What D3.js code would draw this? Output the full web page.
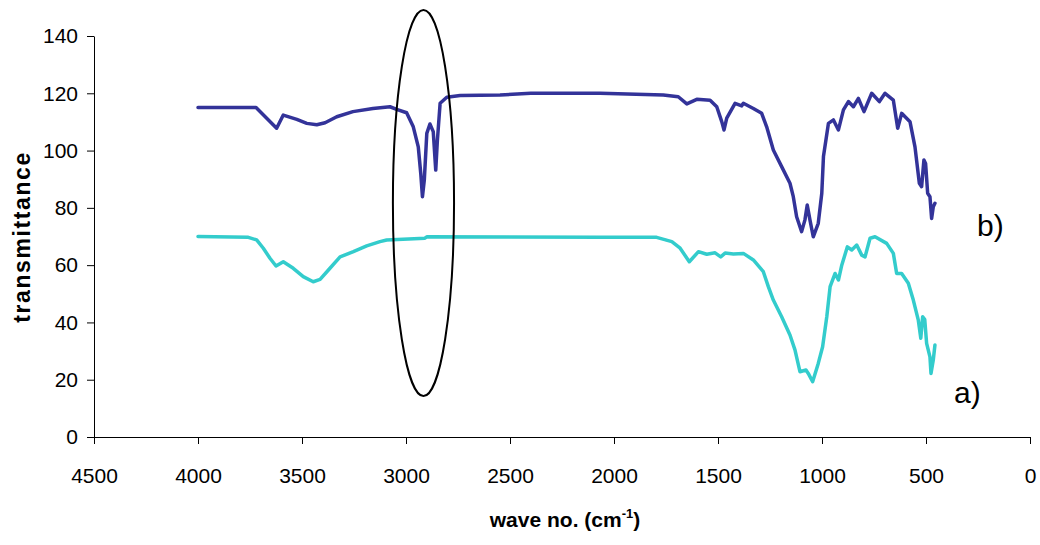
<!DOCTYPE html>
<html>
<head>
<meta charset="utf-8">
<script src="https://cdn.jsdelivr.net/npm/d3@7"></script>
<style>
	body { margin: 0; background: #fff; }
	svg { display: block; font-family: "Liberation Sans", Arial, sans-serif; }
	.axis path, .axis line { stroke: #000; stroke-width: 1; }
	.axis text { font-size: 21px; fill: #000; }
</style>
</head>
<body>
<svg id="chart" width="1040" height="545"></svg>
<script>
// wave numbers (cm-1) and transmittance
const waveB = [4000, 3721, 3622, 3590, 3525, 3477, 3429, 3389, 3333, 3255, 3159, 3077, 3045, 2997, 2965, 2941, 2929, 2921, 2912, 2900, 2885, 2869, 2857, 2849, 2836, 2804, 2740, 2548, 2400, 2067, 1763, 1691, 1650, 1602, 1538, 1506, 1482, 1471, 1458, 1418, 1386, 1378, 1330, 1290, 1266, 1234, 1194, 1154, 1138, 1122, 1098, 1082, 1071, 1058, 1042, 1018, 1001, 993, 969, 945, 921, 897, 873, 849, 825, 798, 761, 724, 697, 657, 636, 617, 577, 553, 532, 521, 510, 502, 492, 481, 473, 465, 457];
const transB = [115, 115, 107.8, 112.4, 110.9, 109.5, 109, 109.7, 111.8, 113.6, 114.7, 115.3, 114.4, 113.2, 108.3, 101.3, 92, 83.9, 89.7, 106, 109.3, 106.6, 93.2, 103.7, 116.5, 118.6, 119.2, 119.4, 120, 120, 119.4, 118.8, 116.3, 117.9, 117.6, 115.3, 110.1, 107.2, 111.3, 116.5, 115.6, 116.5, 114.7, 113, 108.3, 100.2, 94.4, 88.6, 83.9, 76.9, 71.7, 75.8, 81, 75.8, 69.9, 74.6, 85.1, 97.9, 109.5, 110.7, 107.2, 114.2, 117.1, 115.3, 118.2, 113.6, 120, 117.1, 120, 117.6, 107.8, 113, 110.1, 101.3, 88.6, 87.4, 96.7, 95.5, 85.1, 83.9, 76.3, 80.4, 81.6];

const waveA = [4000, 3758, 3718, 3686, 3654, 3625, 3590, 3542, 3494, 3446, 3413, 3373, 3317, 3253, 3189, 3125, 3093, 2909, 2900, 2067, 1795, 1722, 1682, 1638, 1594, 1554, 1514, 1487, 1466, 1426, 1378, 1330, 1282, 1258, 1234, 1194, 1154, 1130, 1106, 1077, 1066, 1045, 1018, 997, 977, 961, 937, 921, 905, 878, 857, 833, 809, 793, 769, 745, 689, 657, 641, 617, 585, 561, 537, 525, 516, 506, 497, 481, 476, 465, 457];
const transA = [70, 69.7, 68.8, 65.9, 62.4, 59.7, 61.2, 58.9, 56, 54.2, 55, 58.3, 62.9, 64.7, 66.7, 68.2, 68.8, 69.4, 69.9, 69.7, 69.7, 68.2, 65.9, 61.2, 64.7, 63.8, 64.3, 62.9, 64.2, 63.9, 64.1, 61.8, 57.7, 52.5, 47.8, 42, 35.6, 30.4, 22.8, 23.4, 22.2, 19.3, 25.7, 31.5, 42, 52.5, 57.1, 54.8, 60, 66.4, 65.3, 67, 63.5, 62.9, 69.4, 69.9, 67.6, 64.1, 57.1, 57.1, 53.7, 47.8, 40.8, 34.5, 42, 41, 32.7, 28, 22.2, 26.9, 32.1];

const xTicks = [4500, 4000, 3500, 3000, 2500, 2000, 1500, 1000, 500, 0];
const yTicks = [0, 20, 40, 60, 80, 100, 120, 140];
const seriesNames = ["b)", "a)"];
const seriesColors = ["#333399", "#33cccc"];

// ellipse marking the C-H stretching region: centre, half-width, half-height
const markWave = 2916, markTrans = 81.7, markRx = 147, markRy = 67.4;

const margin = {top: 36, right: 10, bottom: 108, left: 94};
const W = 1040, H = 545;

const svg = d3.select("#chart");

const x = d3.scaleLinear()
	.domain([4500, 0])
	.range([margin.left, W - margin.right]);

const y = d3.scaleLinear()
	.domain([0, 140])
	.range([H - margin.bottom, margin.top]);

// axes
svg.append("g")
	.attr("class", "axis")
	.attr("transform", `translate(0,${H - margin.bottom})`)
	.call(d3.axisBottom(x).tickValues(xTicks).tickFormat(d3.format("d")).tickSize(7).tickSizeOuter(0))
	.call(g => g.selectAll("text").attr("dy", "0.71em").attr("y", 31));

svg.append("g")
	.attr("class", "axis")
	.attr("transform", `translate(${margin.left},0)`)
	.call(d3.axisLeft(y).tickValues(yTicks).tickSize(7).tickPadding(9).tickSizeOuter(0));

// axis titles
svg.append("text")
	.attr("x", 565)
	.attr("y", 527)
	.attr("text-anchor", "middle")
	.style("font-weight", "bold")
	.style("font-size", "21px")
	.call(t => {
		t.append("tspan").text("wave no. (cm");
		t.append("tspan").attr("dy", -9).style("font-size", "13px").text("-1");
		t.append("tspan").attr("dy", 9).text(")");
	});

svg.append("text")
	.attr("transform", "translate(30,237) rotate(-90)")
	.attr("text-anchor", "middle")
	.style("font-weight", "bold")
	.style("font-size", "23px")
	.style("letter-spacing", "1.6px")
	.text("transmittance");

// spectra
const line = d3.line()
	.x(d => x(d[0]))
	.y(d => y(d[1]));

const spectra = [d3.zip(waveB, transB), d3.zip(waveA, transA)];

svg.selectAll(".spectrum")
	.data(spectra)
	.join("path")
	.attr("class", "spectrum")
	.attr("d", line)
	.attr("fill", "none")
	.attr("stroke", (d, i) => seriesColors[i])
	.attr("stroke-width", 3.5)
	.attr("stroke-linejoin", "round")
	.attr("stroke-linecap", "round");

// series labels
svg.append("text").attr("x", 977).attr("y", 236).style("font-size", "30px").text(seriesNames[0]);
svg.append("text").attr("x", 954).attr("y", 403).style("font-size", "30px").text(seriesNames[1]);

// annotation ellipse
svg.append("ellipse")
	.attr("cx", x(markWave))
	.attr("cy", y(markTrans))
	.attr("rx", x(markWave - markRx) - x(markWave))
	.attr("ry", y(markTrans - markRy) - y(markTrans))
	.attr("fill", "none")
	.attr("stroke", "#000")
	.attr("stroke-width", 2);
</script>
</body>
</html>
